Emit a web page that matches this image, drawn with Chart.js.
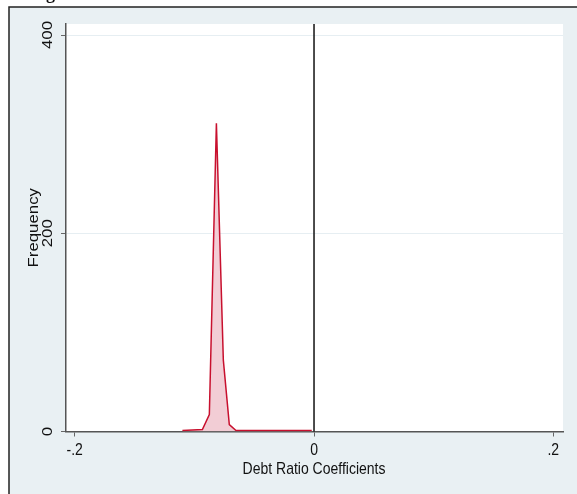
<!DOCTYPE html>
<html>
<head>
<meta charset="utf-8">
<script src="https://cdn.jsdelivr.net/npm/chart.js@4"></script>
<style>
    html, body { margin: 0; padding: 0; background: #fff; }
    #wrap { position: relative; width: 577px; height: 494px; }
</style>
</head>
<body>
<div id="wrap"><canvas id="freqChart" width="577" height="494"></canvas></div>
<script>
// Frequency polygon of the debt ratio coefficients
const coefX = [-0.110, -0.0933, -0.0875, -0.0816, -0.0758, -0.0708, -0.0652, -0.0019];
const freqY = [1, 2, 17, 311, 72, 7, 1, 1];
const xTicks = [-0.2, 0, 0.2];
const xTickLabels = ['-.2', '0', '.2'];
const yTicks = [0, 200, 400];
const yTickLabels = ['0', '200', '400'];
const zeroLine = 0;

const FONT = '"Liberation Sans", Arial, sans-serif';
// the reference graph is a little taller than wide, so text is stretched vertically
const STRETCH = 1.2;

function drawText(ctx, text, x, y, rotated) {
    ctx.save();
    ctx.translate(x, y);
    if (rotated) {
        ctx.rotate(-Math.PI / 2);
        ctx.scale(STRETCH, 1);
    } else {
        ctx.scale(1, STRETCH);
    }
    ctx.fillText(text, 0, 0);
    ctx.restore();
}

// Stata-like frame, labels, reference line
const framePlugin = {
    id: 'frame',
    beforeDraw(chart) {
        const ctx = chart.ctx;
        const area = chart.chartArea;
        ctx.save();
        ctx.fillStyle = '#fff';
        ctx.fillRect(0, 0, chart.width, chart.height);
        ctx.fillStyle = '#e9f0f3';
        ctx.fillRect(9, 7, chart.width - 9, chart.height - 7);
        ctx.strokeStyle = '#222';
        ctx.lineWidth = 1.5;
        ctx.beginPath();
        ctx.moveTo(9, chart.height);
        ctx.lineTo(9, 7);
        ctx.lineTo(chart.width, 7);
        ctx.stroke();
        ctx.fillStyle = '#fff';
        ctx.fillRect(area.left, area.top, area.right - area.left, area.bottom - area.top);
        // cut-off title
        ctx.fillStyle = '#111';
        ctx.font = 'bold 18px "Liberation Serif", serif';
        ctx.textAlign = 'left';
        ctx.textBaseline = 'alphabetic';
        ctx.fillText('g', 46, -1);
        ctx.restore();
    },
    afterDatasetsDraw(chart) {
        const ctx = chart.ctx;
        const area = chart.chartArea;
        const xs = chart.scales.x;
        const ys = chart.scales.y;
        ctx.save();
        const px = xs.getPixelForValue(zeroLine);
        ctx.strokeStyle = '#111';
        ctx.lineWidth = 1.5;
        ctx.beginPath();
        ctx.moveTo(px, area.bottom);
        ctx.lineTo(px, area.top);
        ctx.stroke();

        ctx.fillStyle = '#111';
        ctx.font = '14px ' + FONT;
        ctx.textAlign = 'center';
        ctx.textBaseline = 'middle';
        yTicks.forEach((v, i) => {
            drawText(ctx, yTickLabels[i], 48, ys.getPixelForValue(v), true);
        });
        drawText(ctx, 'Frequency', 34, (area.top + area.bottom) / 2, true);

        xTicks.forEach((v, i) => {
            drawText(ctx, xTickLabels[i], xs.getPixelForValue(v), 450, false);
        });
        drawText(ctx, 'Debt Ratio Coefficients', xs.getPixelForValue(0), 469, false);
        ctx.restore();
    }
};

new Chart(document.getElementById('freqChart'), {
    type: 'line',
    data: {
        datasets: [{
            data: coefX.map((x, i) => ({ x: x, y: freqY[i] })),
            borderColor: '#c8102e',
            backgroundColor: '#f2cdd5',
            borderWidth: 1.5,
            pointRadius: 0,
            tension: 0,
            fill: 'origin'
        }]
    },
    options: {
        responsive: false,
        animation: false,
        layout: { padding: { left: 0, right: 14, top: 24, bottom: 0 } },
        plugins: {
            legend: { display: false },
            tooltip: { enabled: false }
        },
        scales: {
            x: {
                type: 'linear',
                min: -0.2073,
                max: 0.2081,
                afterFit: scale => { scale.height = 62.5; },
                afterBuildTicks: scale => { scale.ticks = xTicks.map(v => ({ value: v })); },
                border: { color: '#555', width: 1.5 },
                grid: { drawOnChartArea: false, tickLength: 5, tickColor: '#666', lineWidth: 1 },
                ticks: { display: false }
            },
            y: {
                min: 0,
                max: 411.1,
                afterFit: scale => { scale.width = 66; },
                afterBuildTicks: scale => { scale.ticks = yTicks.map(v => ({ value: v })); },
                border: { color: '#555', width: 1.5 },
                grid: { color: '#e6eef2', tickLength: 5, tickColor: '#666', lineWidth: 1 },
                ticks: { display: false }
            }
        }
    },
    plugins: [framePlugin]
});
</script>
</body>
</html>
